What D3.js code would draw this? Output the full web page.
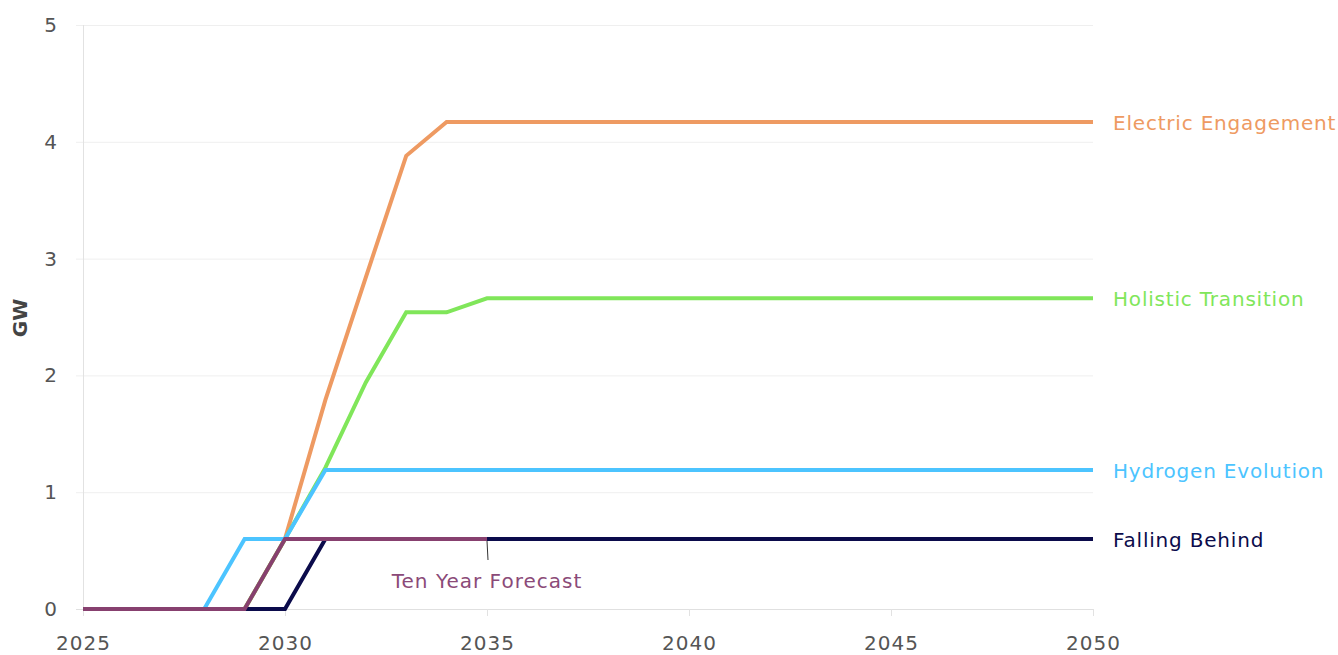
<!DOCTYPE html>
<html>
<head>
<meta charset="utf-8">
<script src="https://cdn.jsdelivr.net/npm/d3@7"></script>
<style>
  html, body { margin: 0; padding: 0; background: #fff; }
  svg { display: block; font-family: "DejaVu Sans", "Noto Sans", sans-serif; }
</style>
</head>
<body>
<svg id="chart" width="1338" height="655"></svg>
<script>
const years = [2025,2026,2027,2028,2029,2030,2031,2032,2033,2034,2035,2036,2037,2038,2039,2040,2041,2042,2043,2044,2045,2046,2047,2048,2049,2050];
const electricEngagement = [0,0,0,0,0,0.6,1.79,2.84,3.88,4.17,4.17,4.17,4.17,4.17,4.17,4.17,4.17,4.17,4.17,4.17,4.17,4.17,4.17,4.17,4.17,4.17];
const holisticTransition = [0,0,0,0,0,0.6,1.21,1.94,2.54,2.54,2.66,2.66,2.66,2.66,2.66,2.66,2.66,2.66,2.66,2.66,2.66,2.66,2.66,2.66,2.66,2.66];
const hydrogenEvolution = [0,0,0,0,0.6,0.6,1.19,1.19,1.19,1.19,1.19,1.19,1.19,1.19,1.19,1.19,1.19,1.19,1.19,1.19,1.19,1.19,1.19,1.19,1.19,1.19];
const fallingBehind = [0,0,0,0,0,0,0.6,0.6,0.6,0.6,0.6,0.6,0.6,0.6,0.6,0.6,0.6,0.6,0.6,0.6,0.6,0.6,0.6,0.6,0.6,0.6];
const tenYearForecast = [0,0,0,0,0,0.6,0.6,0.6,0.6,0.6,0.6];
const xTicks = [2025,2030,2035,2040,2045,2050];
const yTicks = [0,1,2,3,4,5];

const series = [
  { name: "Electric Engagement", values: electricEngagement, color: "#EE9A62", label: true },
  { name: "Holistic Transition", values: holisticTransition, color: "#80E65A", label: true },
  { name: "Hydrogen Evolution", values: hydrogenEvolution, color: "#4CC4FF", label: true },
  { name: "Falling Behind", values: fallingBehind, color: "#0B0B4B", label: true },
  { name: "Ten Year Forecast", values: tenYearForecast, color: "#87406F", label: false }
];

const svg = d3.select("#chart");
const x = d3.scaleLinear().domain([2025, 2050]).range([83, 1093]);
const y = d3.scaleLinear().domain([0, 5]).range([609, 25]);

// gridlines
svg.append("g").selectAll("line").data(yTicks).join("line")
  .attr("x1", 76).attr("x2", 1093)
  .attr("y1", d => y(d) + 0.5).attr("y2", d => y(d) + 0.5)
  .attr("stroke", d => d === 0 ? "#e0e0e0" : "#efefef").attr("stroke-width", 1);

// y axis line
svg.append("line").attr("x1", 83.5).attr("x2", 83.5).attr("y1", y(5)).attr("y2", y(0) + 6)
  .attr("stroke", "#e2e2e2").attr("stroke-width", 1);

// x ticks
svg.append("g").selectAll("line").data(xTicks).join("line")
  .attr("x1", d => Math.round(x(d)) + 0.5).attr("x2", d => Math.round(x(d)) + 0.5)
  .attr("y1", y(0)).attr("y2", y(0) + 7)
  .attr("stroke", "#e2e2e2");

// tick labels
svg.append("g").selectAll("text").data(yTicks).join("text")
  .attr("x", 57).attr("y", d => y(d)).attr("dy", "0.35em")
  .attr("text-anchor", "end").attr("font-size", 20).attr("fill", "#555")
  .text(d => d);
svg.append("g").selectAll("text").data(xTicks).join("text")
  .attr("x", d => x(d) + 0.5).attr("y", 643).attr("dy", "0.35em")
  .attr("text-anchor", "middle").attr("font-size", 20).attr("letter-spacing", "1px").attr("fill", "#555")
  .text(d => d);

// y axis title
svg.append("text").attr("transform", "translate(20,318) rotate(-90)")
  .attr("text-anchor", "middle").attr("dy", "0.35em").attr("font-size", 20).attr("font-weight", "bold")
  .attr("fill", "#444").text("GW");

// lines
const line = d3.line().x((d, i) => x(years[i])).y(d => y(d));
svg.append("g").selectAll("path").data(series).join("path")
  .attr("d", d => line(d.values))
  .attr("fill", "none").attr("stroke", d => d.color)
  .attr("stroke-width", 4).attr("stroke-linejoin", "miter");

// end labels
svg.append("g").selectAll("text").data(series.filter(s => s.label)).join("text")
  .attr("x", 1113).attr("y", d => y(d.values[d.values.length - 1]) + 1).attr("dy", "0.35em")
  .attr("font-size", 20).attr("letter-spacing", "0.8px").attr("fill", d => d.color)
  .text(d => d.name);

// ten year forecast annotation
const fEnd = years[tenYearForecast.length - 1];
svg.append("line")
  .attr("x1", x(fEnd)).attr("x2", x(fEnd) + 1)
  .attr("y1", y(tenYearForecast[tenYearForecast.length - 1]) + 2).attr("y2", 560)
  .attr("stroke", "#333").attr("stroke-width", 1);
svg.append("text").attr("x", x(fEnd)).attr("y", 581).attr("dy", "0.35em")
  .attr("text-anchor", "middle").attr("font-size", 20).attr("letter-spacing", "1px").attr("fill", "#8B4A78")
  .text("Ten Year Forecast");
</script>
</body>
</html>
